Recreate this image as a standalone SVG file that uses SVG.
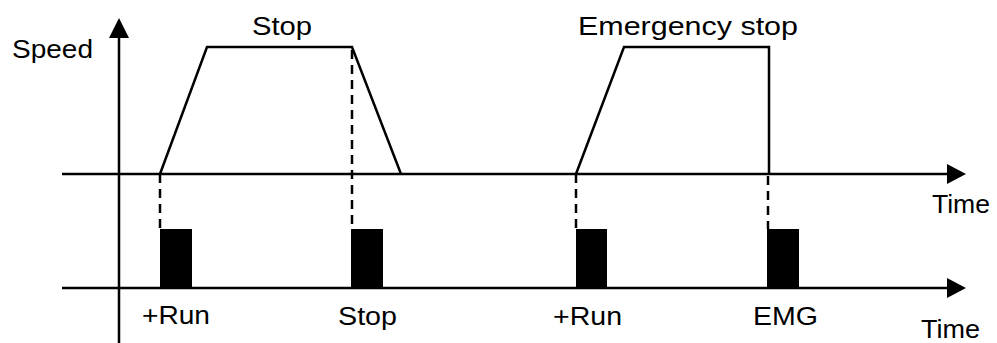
<svg xmlns="http://www.w3.org/2000/svg" width="997" height="343" viewBox="0 0 997 343">
<style>
.ln{fill:none;stroke:#000;stroke-width:2.5;stroke-linejoin:miter}
.ds{fill:none;stroke:#000;stroke-width:2.5;stroke-dasharray:9,6}
.blk{fill:#000}
.tx{font-family:"Liberation Sans",Arial,sans-serif;font-size:25.5px;fill:#000}
</style>
<rect width="997" height="343" fill="#fff"/>
<g id="axes">
<line class="ln" x1="119" y1="36" x2="119" y2="343"/>
<polygon points="119,18 109,38 129,38"/>
<line class="ln" x1="62" y1="174" x2="950" y2="174"/>
<polygon points="966,174 947,164 947,184"/>
<line class="ln" x1="62" y1="288" x2="950" y2="288"/>
<polygon points="966,288 947,278 947,298"/>
</g>
<g id="profiles">
<polyline class="ln" points="160,174 207,47 352,47 401,174"/>
<polyline class="ln" points="576,174 624,47 769,47 769,174"/>
</g>
<g id="connectors">
<line class="ds" x1="160" y1="174" x2="160" y2="229"/>
<line class="ds" x1="352" y1="50" x2="352" y2="229"/>
<line class="ds" x1="576" y1="174" x2="576" y2="229"/>
<line class="ds" x1="768" y1="176" x2="768" y2="229"/>
</g>
<g id="pulses">
<rect class="blk" x="160" y="229" width="32" height="59"/>
<rect class="blk" x="351" y="229" width="32" height="59"/>
<rect class="blk" x="576" y="229" width="31" height="59"/>
<rect class="blk" x="767" y="229" width="32" height="59"/>
</g>
<g id="labels">
<text class="tx" x="12" y="58" textLength="81" lengthAdjust="spacingAndGlyphs">Speed</text>
<text class="tx" x="252" y="35" textLength="60" lengthAdjust="spacingAndGlyphs">Stop</text>
<text class="tx" x="578" y="35" textLength="220" lengthAdjust="spacingAndGlyphs">Emergency stop</text>
<text class="tx" x="932" y="213" textLength="58" lengthAdjust="spacingAndGlyphs">Time</text>
<text class="tx" x="921" y="338" textLength="59" lengthAdjust="spacingAndGlyphs">Time</text>
<text class="tx" x="142" y="324" textLength="68" lengthAdjust="spacingAndGlyphs">+Run</text>
<text class="tx" x="338" y="325" textLength="59" lengthAdjust="spacingAndGlyphs">Stop</text>
<text class="tx" x="553" y="325" textLength="69" lengthAdjust="spacingAndGlyphs">+Run</text>
<text class="tx" x="753" y="325" textLength="65" lengthAdjust="spacingAndGlyphs">EMG</text>
</g>
</svg>
